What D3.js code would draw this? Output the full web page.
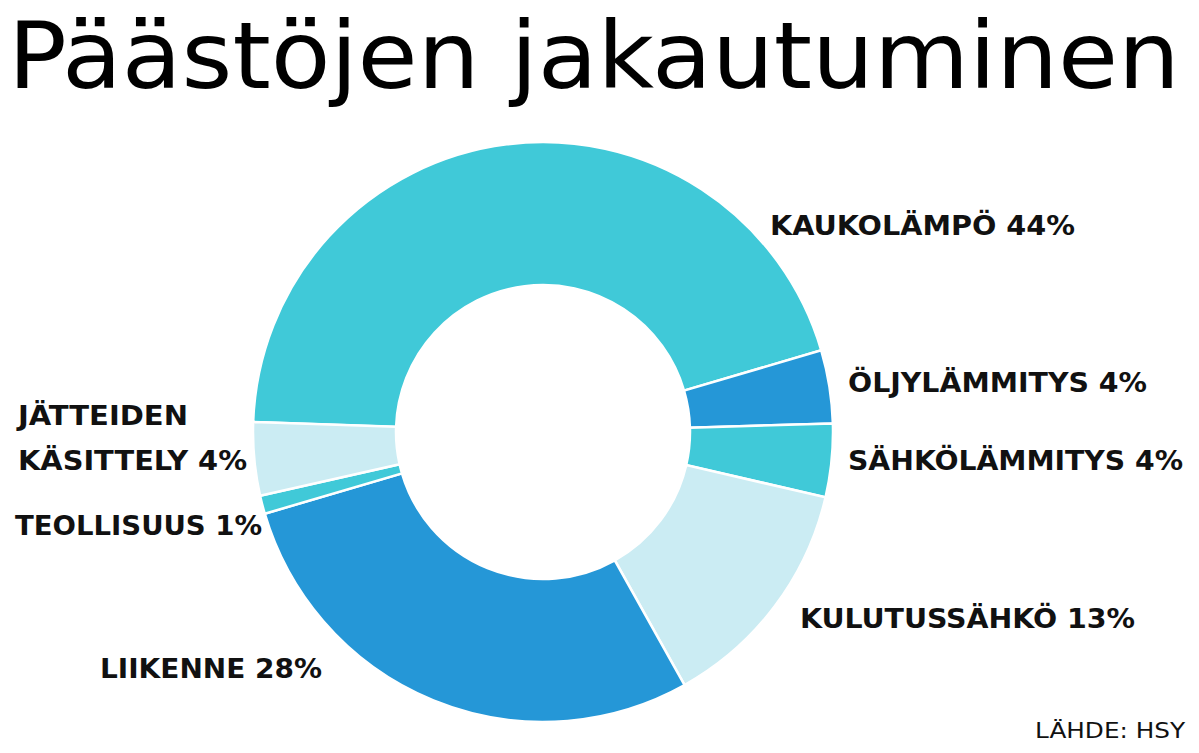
<!DOCTYPE html>
<html><head><meta charset="utf-8">
<script src="https://cdn.jsdelivr.net/npm/d3@7"></script>
<style>body{margin:0;background:#fff}</style>
</head><body>
<svg id="chart" width="1199" height="753"></svg>
<script>
// data
var categories = ["KAUKOLÄMPÖ", "ÖLJYLÄMMITYS", "SÄHKÖLÄMMITYS", "KULUTUSSÄHKÖ", "LIIKENNE", "TEOLLISUUS", "JÄTTEIDEN KÄSITTELY"];
var shares = [44, 4, 4, 13, 28, 1, 4];
var colors = ["#40c9d8", "#2597d7", "#40c9d8", "#cbecf3", "#2597d7", "#40c9d8", "#cbecf3"];

// label placement: [x, y, anchor, textLength per line]
var labelPos = [
  [770, 235, 305], [848, 392, 299], [848, 470, 335], [800, 628, 335],
  [100, 678, 222], [15, 535, 247], [18, 425, 170]
];

var svg = d3.select("#chart");

svg.append("text")
  .attr("x", 8).attr("y", 88)
  .attr("font-family", "DejaVu Sans Condensed, DejaVu Sans")
  .attr("font-size", 92)
  .attr("textLength", 1172).attr("lengthAdjust", "spacingAndGlyphs")
  .attr("fill", "#000")
  .text("Päästöjen jakautuminen");

var start = -88 * Math.PI / 180;
var pie = d3.pie().sort(null).startAngle(start).endAngle(start + 2 * Math.PI);
var arc = d3.arc().innerRadius(147).outerRadius(290);

var g = svg.append("g").attr("transform", "translate(543,432)");
g.selectAll("path")
  .data(pie(shares))
  .join("path")
  .attr("d", arc)
  .attr("fill", (d, i) => colors[i])
  .attr("stroke", "#fff")
  .attr("stroke-width", 2.5);

var font = "DejaVu Sans Condensed, DejaVu Sans";
categories.forEach(function (c, i) {
  var p = labelPos[i];
  var t = svg.append("text")
    .attr("font-family", font).attr("font-weight", "bold")
    .attr("font-size", 27).attr("fill", "#111");
  if (i === 6) {
    t.append("tspan").attr("x", p[0]).attr("y", p[1])
      .attr("textLength", 170).attr("lengthAdjust", "spacingAndGlyphs").text("JÄTTEIDEN");
    t.append("tspan").attr("x", p[0]).attr("y", p[1] + 45)
      .attr("textLength", 229).attr("lengthAdjust", "spacingAndGlyphs").text("KÄSITTELY " + shares[i] + "%");
  } else {
    t.attr("x", p[0]).attr("y", p[1])
      .attr("textLength", p[2]).attr("lengthAdjust", "spacingAndGlyphs")
      .text(c + " " + shares[i] + "%");
  }
});

svg.append("text")
  .attr("x", 1185).attr("y", 738).attr("text-anchor", "end")
  .attr("font-family", font).attr("font-size", 22).attr("fill", "#111")
  .attr("textLength", 150).attr("lengthAdjust", "spacingAndGlyphs")
  .text("LÄHDE: HSY");
</script>
</body></html>
